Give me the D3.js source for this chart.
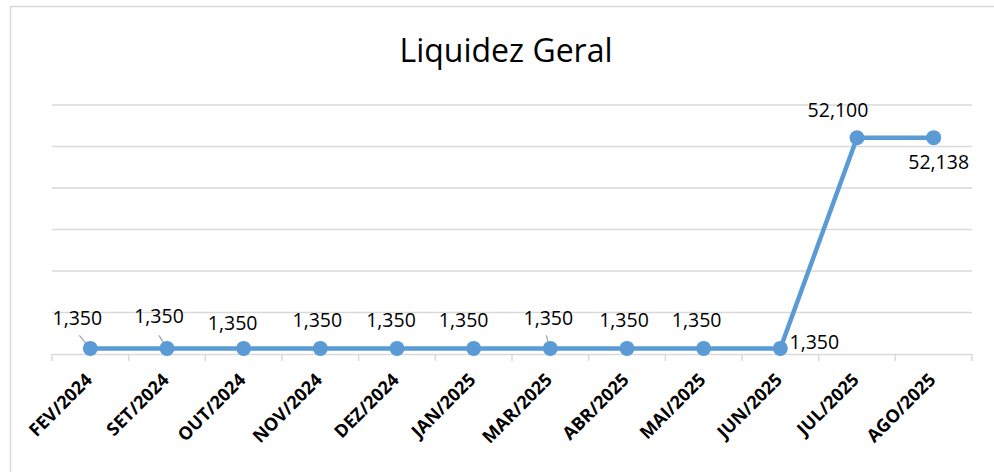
<!DOCTYPE html>
<html>
<head>
<meta charset="utf-8">
<script src="https://cdn.jsdelivr.net/npm/d3@7"></script>
<style>
  html, body { margin: 0; padding: 0; background: #fff; }
  svg { display: block; }
</style>
</head>
<body>
<svg id="chart" width="994" height="472"></svg>
<script>
const categories = ["FEV/2024","SET/2024","OUT/2024","NOV/2024","DEZ/2024","JAN/2025","MAR/2025","ABR/2025","MAI/2025","JUN/2025","JUL/2025","AGO/2025"];
const values = [1.350,1.350,1.350,1.350,1.350,1.350,1.350,1.350,1.350,1.350,52.100,52.138];
const yTicks = [0,10,20,30,40,50,60];
const title = "Liquidez Geral";

// label layout (offsets from point, in px) and leader-line flags
const labelOffsets = [[-13,-23],[-8,-25],[-11,-18],[-3,-21],[-6,-21],[-10,-21],[-2,-23],[-3,-21],[-7,-21],[34,1],[-19,-21],[5,31]];
const leaders = [true,true,false,false,false,false,true,false,false,false,false,false];

const svg = d3.select("#chart");
const W = 994, H = 472;
const m = {left: 52, right: 22};

// chart frame
svg.append("rect").attr("x",10.5).attr("y",6.5).attr("width",W+20).attr("height",H+20)
  .attr("fill","#fff").attr("stroke","#d9d9d9").attr("stroke-width",1.5);

const x = d3.scaleBand().domain(categories).range([m.left, W - m.right]).paddingInner(0).paddingOuter(0);
const y = d3.scaleLinear().domain([0,60]).range([354, 105]);

// gridlines
svg.append("g").selectAll("line").data(yTicks.filter(d=>d>0)).join("line")
  .attr("x1", m.left).attr("x2", W - m.right)
  .attr("y1", d=>y(d)).attr("y2", d=>y(d))
  .attr("stroke","#d9d9d9").attr("stroke-width",1.5);

// x axis
const xAxis = d3.axisBottom(x).tickSize(0).tickFormat("");
const gx = svg.append("g").attr("transform",`translate(0,${y(0)})`).call(xAxis);
gx.select(".domain").attr("stroke","#d9d9d9").attr("stroke-width",1.5);
const bounds = categories.map(c=>x(c)).concat([x(categories[categories.length-1]) + x.bandwidth()]);
gx.selectAll(".tb").data(bounds).join("line").attr("class","tb")
  .attr("x1",d=>d).attr("x2",d=>d).attr("y1",0).attr("y2",7)
  .attr("stroke","#d9d9d9").attr("stroke-width",1.5);

// x labels
svg.append("g").selectAll("text").data(categories).join("text")
  .attr("transform", d=>`translate(${x(d)+x.bandwidth()/2+3},${y(0)+27}) rotate(-45)`)
  .attr("text-anchor","end")
  .attr("font-family","Open Sans, sans-serif").attr("font-weight","bold").attr("font-size",18)
  .attr("fill","#000")
  .text(d=>d);

// title
svg.append("text").attr("x",506).attr("y",62).attr("text-anchor","middle")
  .attr("font-family","Open Sans, sans-serif").attr("font-size",32).attr("fill","#000")
  .text(title);

const cx = (c)=>x(c)+x.bandwidth()/2;

// line
const line = d3.line().x((d,i)=>cx(categories[i])).y(d=>y(d));
svg.append("path").datum(values).attr("d",line)
  .attr("fill","none").attr("stroke","#5b9bd5").attr("stroke-width",4.5).attr("stroke-linejoin","round");

// leader lines
const leaderDx = [-11,-8,0,0,0,0,-4,0,0,0,0,0];
svg.append("g").selectAll("line").data(values.map((v,i)=>({v,i})).filter(d=>leaders[d.i])).join("line")
  .attr("x1",d=>cx(categories[d.i]) + leaderDx[d.i])
  .attr("y1",d=>y(d.v)-13)
  .attr("x2",d=>cx(categories[d.i])-1)
  .attr("y2",d=>y(d.v)-1)
  .attr("stroke","#a6a6a6").attr("stroke-width",1.3);

// markers
svg.append("g").selectAll("circle").data(values).join("circle")
  .attr("cx",(d,i)=>cx(categories[i])).attr("cy",d=>y(d)).attr("r",7.5)
  .attr("fill","#5b9bd5");

// data labels
const fmt = v => v.toFixed(3).replace(".", ",");
svg.append("g").selectAll("text").data(values).join("text")
  .attr("x",(d,i)=>cx(categories[i])+labelOffsets[i][0])
  .attr("y",(d,i)=>y(d)+labelOffsets[i][1])
  .attr("text-anchor","middle")
  .attr("font-family","Open Sans, sans-serif").attr("font-size",19.5).attr("fill","#000")
  .text(d=>fmt(d));
</script>
</body>
</html>
